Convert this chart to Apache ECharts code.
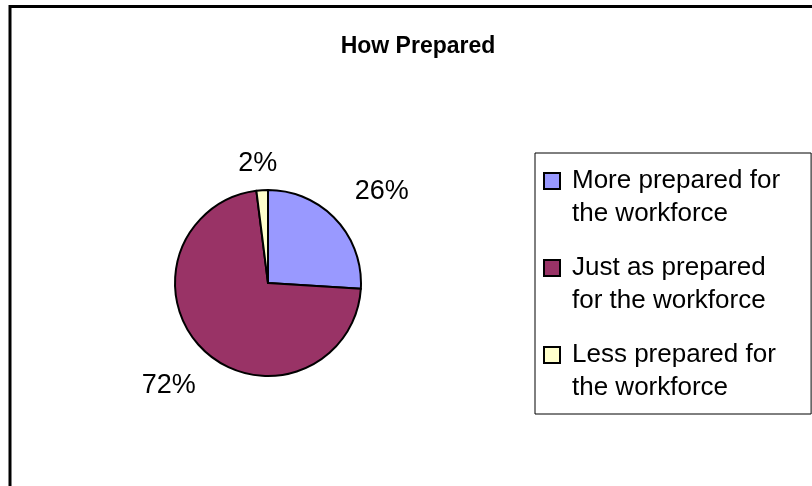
<!DOCTYPE html>
<html>
<head>
<meta charset="utf-8">
<title>How Prepared</title>
<script src="https://cdn.jsdelivr.net/npm/echarts@6/dist/echarts.min.js"></script>
<style>
  html, body { margin: 0; padding: 0; background: #fff; }
  #main { width: 812px; height: 486px; }
</style>
</head>
<body>
<div id="main"></div>
<script>
// data (percent of respondents)
var categories = [
  'More prepared for\nthe workforce',
  'Just as prepared\nfor the workforce',
  'Less prepared for\nthe workforce'
];
var values = [26, 72, 2];

var font = "'Liberation Sans', Arial, sans-serif";
var colors = ['#9999FF', '#993366', '#FFFFCC'];

// legend: square swatch on the first line, second line indented
var legendRich = {
  g: { width: 13 },
  g2: { width: 27 },
  t: { fontSize: 26, lineHeight: 33, color: '#000', fontFamily: font }
};
colors.forEach(function (c, i) {
  legendRich['i' + i] = {
    width: 14, height: 14,
    backgroundColor: c,
    borderColor: '#000',
    borderWidth: 2
  };
});

// nudge the outside labels to where Excel put them
var labelNudge = function (p) {
  var d = [[-8, -7], [17, 13], [22, 3]][p.dataIndex];
  return { dx: d[0], dy: d[1] };
};

var chart = echarts.init(document.getElementById('main'));
chart.setOption({
  animation: false,
  color: colors,
  title: {
    text: 'How Prepared',
    left: 418,
    top: 35,
    padding: 0,
    textAlign: 'center',
    textStyle: { fontSize: 23, fontWeight: 'bold', color: '#000', fontFamily: font }
  },
  graphic: [{
    type: 'rect',
    z: -1,
    shape: { x: 10, y: 6.5, width: 900, height: 600 },
    style: { fill: '#fff', stroke: '#000', lineWidth: 3 }
  }],
  legend: {
    orient: 'vertical',
    left: 535,
    top: 153,
    icon: 'none',
    itemWidth: 0,
    itemHeight: 14,
    itemGap: 28,
    itemStyle: { borderWidth: 0 },
    padding: [15, 31, 13, 5],
    backgroundColor: '#fff',
    borderColor: '#000',
    borderWidth: 1,
    selectedMode: false,
    data: categories,
    formatter: function (name) {
      var i = categories.indexOf(name);
      var lines = name.split('\n');
      return '{i' + i + '|}{g|}{t|' + lines[0] + '}\n{g2|}{t|' + lines[1] + '}';
    },
    textStyle: { rich: legendRich }
  },
  series: [{
    type: 'pie',
    center: [268, 283],
    radius: 93,
    startAngle: 90,
    clockwise: true,
    percentPrecision: 0,
    itemStyle: { borderColor: '#000', borderWidth: 2 },
    emphasis: { disabled: true },
    label: {
      position: 'outside',
      formatter: '{d}%',
      fontSize: 27,
      color: '#000',
      fontFamily: font
    },
    labelLine: { show: false, length: 30, length2: 0 },
    labelLayout: labelNudge,
    data: categories.map(function (name, i) {
      return { name: name, value: values[i] };
    })
  }]
});
</script>
</body>
</html>
